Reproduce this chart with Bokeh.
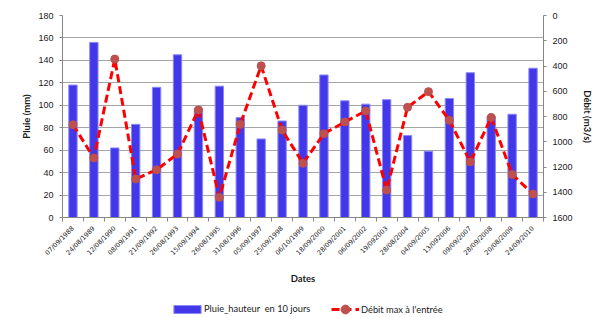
from math import pi
from bokeh.plotting import figure
from bokeh.layouts import column
from bokeh.models import (Range1d, LinearAxis, FixedTicker, SingleIntervalTicker,
                          Legend, LegendItem, ColumnDataSource, Grid)
from bokeh.embed import file_html
from bokeh.resources import INLINE

dates = ["07/09/1988", "24/08/1989", "12/08/1990", "08/09/1991", "21/09/1992",
         "26/08/1993", "15/09/1994", "26/08/1995", "31/08/1996", "05/09/1997",
         "25/09/1998", "06/10/1999", "18/09/2000", "28/09/2001", "06/09/2002",
         "19/092003", "28/08/2004", "04/09/2005", "13/092006", "09/09/2007",
         "28/09/2008", "20/08/2009", "24/09/2010"]
pluie = [118, 156, 62, 83, 116, 145, 97, 117, 89, 70, 86, 100,
         127, 104, 101, 105, 73, 59, 106, 129, 90, 92, 133]
debit = [865, 1129, 345, 1295, 1222, 1097, 748, 1441, 862, 399, 907, 1171,
         936, 843, 756, 1383, 727, 603, 830, 1160, 807, 1259, 1414]

bar_label = "Pluie_hauteur  en 10 jours"
line_label = "Débit max à l'entrée"

BAR_FILL, BAR_LINE = "#4238EA", "#8C88F5"
LINE_COL, DOT_COL, DOT_EDGE = "#FF0000", "#C0504D", "#B9504D"

idx = list(range(len(dates)))
src = ColumnDataSource(dict(x=idx, pluie=pluie, debit=debit, date=dates))

p = figure(width=600, height=292, output_backend="svg", toolbar_location=None,
           x_range=Range1d(-0.5, len(dates) - 0.5), y_range=Range1d(0, 180),
           x_axis_type=None, y_axis_type=None,
           min_border_left=62, min_border_right=57, min_border_top=15,
           min_border_bottom=75)
p.outline_line_color = None
p.extra_y_ranges = {"q": Range1d(1600, 0)}

axis_col = "#868686"
lab_col = "#1a1a1a"
FONT = "Lato"

yl = LinearAxis(ticker=SingleIntervalTicker(interval=20, num_minor_ticks=0),
                axis_label="Pluie (mm)")
yr = LinearAxis(y_range_name="q",
                ticker=SingleIntervalTicker(interval=200, num_minor_ticks=0),
                axis_label="Débit (m3/s)")
for ax in (yl, yr):
    ax.axis_line_color = axis_col
    ax.major_tick_line_color = axis_col
    ax.major_tick_out = 3
    ax.major_tick_in = 0
    ax.minor_tick_line_color = None
    ax.major_label_text_font = "Liberation Sans"
    ax.major_label_text_font_size = "9px"
    ax.major_label_text_color = lab_col
    ax.major_label_standoff = 6
    ax.axis_label_text_font = FONT
    ax.axis_label_text_font_style = "bold"
    ax.axis_label_text_font_size = "9.5px"
    ax.axis_label_text_color = lab_col
yl.axis_label_standoff = 3
yr.axis_label_standoff = 6
p.add_layout(yl, "left")
p.add_layout(yr, "right")

xa = LinearAxis(ticker=FixedTicker(ticks=idx,
                                   minor_ticks=[i - 0.5 for i in range(len(dates) + 1)]),
                major_label_overrides={i: d for i, d in zip(idx, dates)},
                axis_label="Dates")
xa.axis_line_color = axis_col
xa.major_tick_line_color = None
xa.major_tick_out = 0
xa.minor_tick_line_color = axis_col
xa.minor_tick_out = 4
xa.minor_tick_in = 0
xa.major_label_orientation = pi / 4
xa.major_label_text_font = "DejaVu Sans"
xa.major_label_text_font_size = "6.5px"
xa.major_label_text_color = lab_col
xa.major_label_standoff = 6
xa.axis_label_text_font = FONT
xa.axis_label_text_font_style = "bold"
xa.axis_label_text_font_size = "9.5px"
xa.axis_label_text_color = lab_col
xa.axis_label_standoff = 10
p.add_layout(xa, "below")

g = Grid(dimension=1, ticker=yl.ticker, grid_line_color="#A6A6A6", grid_line_width=1)
p.add_layout(g)

p.vbar(x="x", top="pluie", width=0.4, source=src,
       fill_color=BAR_FILL, line_color=BAR_LINE, line_width=1)
p.line(x="x", y="debit", source=src, y_range_name="q",
       line_color=LINE_COL, line_width=3, line_dash="8 4")
p.scatter(x="x", y="debit", source=src, y_range_name="q", size=8,
          fill_color=DOT_COL, line_color=DOT_EDGE, marker="circle")

# ---- legend strip: a second, axis-less figure under the chart ----
# (same series with hidden renderers: only the legend is seen)
lg = figure(width=600, height=26, output_backend="svg", toolbar_location=None,
            x_range=Range1d(-10, -9), y_range=Range1d(0, 1),
            x_axis_type=None, y_axis_type=None,
            min_border_left=0, min_border_right=0, min_border_top=0,
            min_border_bottom=0)
lg.outline_line_color = None
lg.grid.visible = False
lb = lg.vbar(x="x", top="pluie", width=0.4, source=src, visible=False,
             fill_color=BAR_FILL, line_color=BAR_LINE, line_width=1)
ll = lg.line(x="x", y="debit", source=src, visible=False,
             line_color=LINE_COL, line_width=3, line_dash="8 4")
ls = lg.scatter(x="x", y="debit", source=src, size=8, visible=False,
                fill_color=DOT_COL, line_color=DOT_EDGE, marker="circle")

common = dict(orientation="horizontal", border_line_color=None,
              background_fill_alpha=0, padding=0, margin=0,
              inactive_fill_alpha=0,
              label_text_font=FONT, label_text_font_size="9.3px",
              label_text_color=lab_col)
leg1 = Legend(items=[LegendItem(label=bar_label, renderers=[lb])],
              location=(108, 4), glyph_width=34, glyph_height=10,
              label_height=10, label_standoff=0, **common)
leg2 = Legend(items=[LegendItem(label=line_label, renderers=[ll, ls])],
              location=(269, -2), glyph_width=28, glyph_height=22,
              label_height=22, label_standoff=2, **common)
lg.add_layout(leg1, "center")
lg.add_layout(leg2, "center")

layout = column(p, lg, spacing=0)
open("out.html", "w").write(file_html(layout, INLINE))
